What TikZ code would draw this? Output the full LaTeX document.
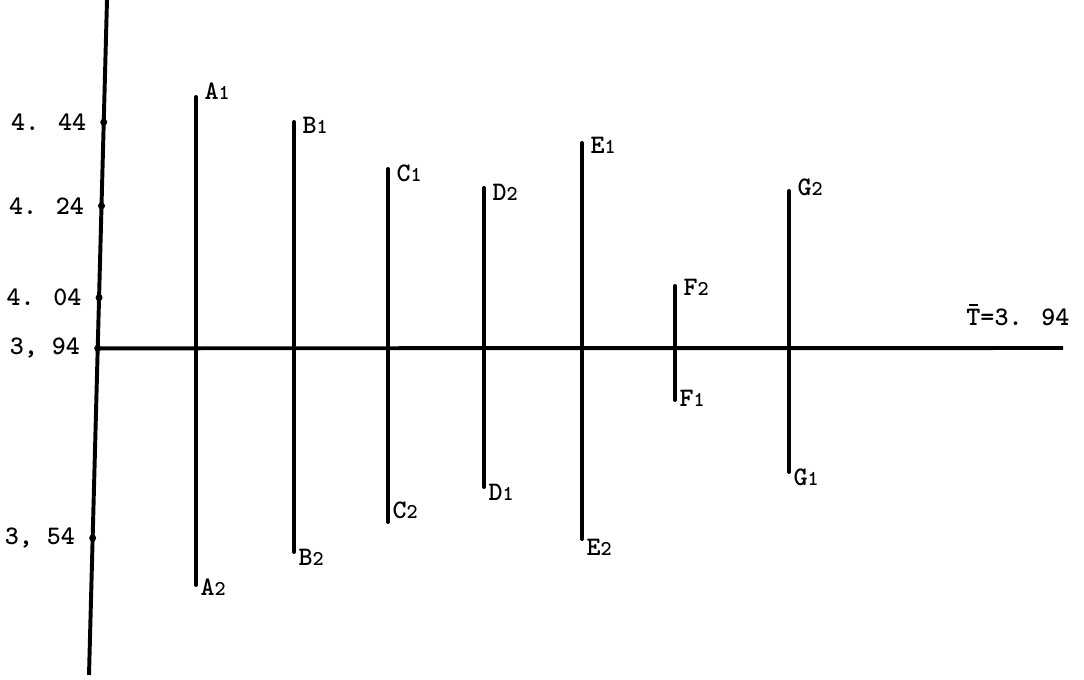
\documentclass[tikz,border=0pt]{standalone}
\usepackage{fontspec}
\usepackage{tikz}
\usetikzlibrary{%
	calc,%
	positioning%
}
\newcommand{\lbsub}[1]{{\fontsize{15}{17}\selectfont #1}}

\begin{document}
\begin{tikzpicture}[x=0.025cm,y=-0.025cm,
		bar/.style={line width=2.8pt,line cap=round},
		axisline/.style={line width=2.8pt},
		lab/.style={font=\ttfamily\bfseries\fontsize{19}{21}\selectfont,inner sep=1pt}
	]
	\useasboundingbox (0,0) rectangle (1084,679);
	
	% Axes
	\coordinate (axtop) at (107,0);
	\coordinate (axbot) at (89,675);
	\draw[axisline] (axtop) -- (axbot)
		coordinate[pos=0.181] (t444)
		coordinate[pos=0.305] (t424)
		coordinate[pos=0.441] (t404)
		coordinate[pos=0.516] (t394)
		coordinate[pos=0.797] (t354);
	\coordinate (tend) at (1063,348);
	\draw[axisline] (t394) -- (tend);
	\node[lab,anchor=east] (tbar) at (1071,317) {T=3. 94};
	\draw[line width=1pt] ($(tbar.north west)+(4,-2)$) -- ($(tbar.north west)+(13,-2)$);
	
	% Ticks
	\foreach \t/\txt in {t444/4. 44,t424/4. 24,t404/4. 04,t394/3{,} 94,t354/3{,} 54}{
		\fill (\t) circle (3.5);
		\node[lab,anchor=east] (l\t) at ($(\t)+(-16,0)$) {\txt};
	}
	
	% Bars
	\foreach \n/\x/\t/\b/\tly/\bly/\ti/\bi in {%
		A/196/97/585/91/587/1/2,%
		B/294/122/552/125/557/1/2,%
		C/388/169/522/173/510/1/2,%
		D/484/188/487/192/492/2/1,%
		E/582/143/539/145/547/1/2,%
		F/675/286/400/287/398/2/1,%
		G/789/191/472/187/477/2/1}{
		\coordinate (\n top) at (\x,\t);
		\coordinate (\n bot) at (\x,\b);
		\draw[bar] (\n top) -- (\n bot);
		\node[lab,anchor=west] (\n\ti) at (\x+7,\tly) {\n\lbsub{\ti}};
		\node[lab,anchor=west] (\n\bi) at (\x+3,\bly) {\n\lbsub{\bi}};
	}
\end{tikzpicture}
\end{document}
